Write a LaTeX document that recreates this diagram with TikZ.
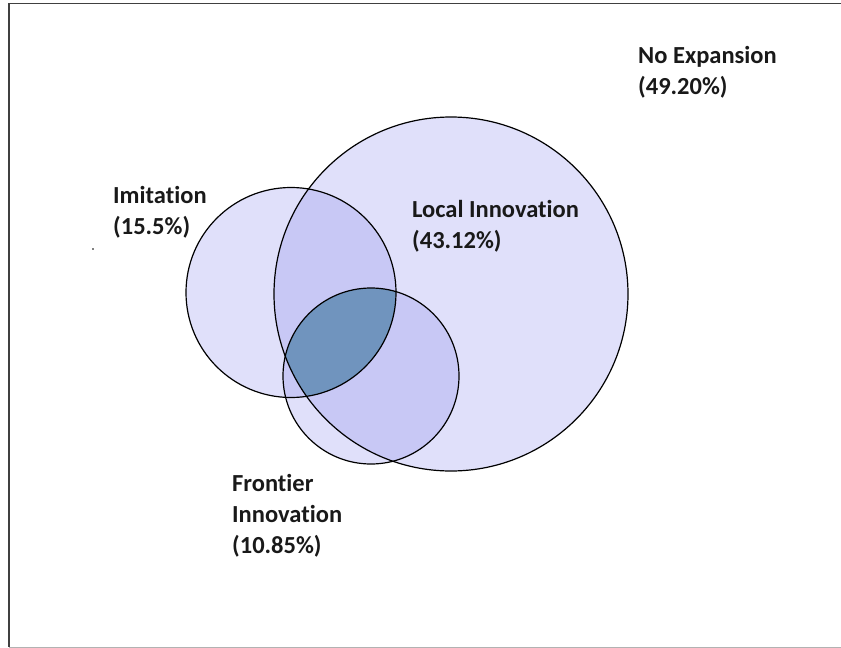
\documentclass[tikz,border=0pt]{standalone}
\usepackage{fontspec}
\setmainfont{Carlito}[Ligatures=NoCommon]
\definecolor{venlight}{RGB}{224,224,250}
\definecolor{venmid}{RGB}{200,200,245}
\definecolor{vendark}{RGB}{112,148,190}
\def\imitcirc{(291,292.5) circle [radius=105pt]}
\def\localcirc{(451,294) circle [radius=177pt]}
\def\frontcirc{(371,376) circle [radius=88pt]}
\begin{document}
\begin{tikzpicture}[x=1pt,y=-1pt,
  lbl/.style={anchor=north west,align=left,inner sep=0pt,text=black!90,
    font=\fontsize{24.5}{31}\selectfont\bfseries}]
  \useasboundingbox (0,0) rectangle (841,648);

  % Frame around the figure
  \draw[line width=1.5pt,black!75] (845,3.5) -- (9,3.5) -- (9,647);
  \draw[black!30] (9,647) -- (845,647);

  % Single regions
  \fill[venlight] \localcirc;
  \fill[venlight] \imitcirc;
  \fill[venlight] \frontcirc;

  % Pairwise overlaps
  \begin{scope}
    \clip \imitcirc;
    \fill[venmid] \localcirc;
    \fill[venmid] \frontcirc;
  \end{scope}
  \begin{scope}
    \clip \frontcirc;
    \fill[venmid] \localcirc;
  \end{scope}

  % Overlap of all three
  \begin{scope}
    \clip \imitcirc;
    \clip \frontcirc;
    \fill[vendark] \localcirc;
  \end{scope}

  % Outlines
  \draw[line width=1.2pt] \localcirc;
  \draw[line width=1.2pt] \imitcirc;
  \draw[line width=1.2pt] \frontcirc;

  % Labels
  \node[lbl] (noexp) at (638,46) {No Expansion\\(49.20\%)};
  \node[lbl] (local) at (412,200) {Local Innovation\\(43.12\%)};
  \node[lbl] (imit) at (113,186) {Imitation\\(15.5\%)};
  \node[lbl] (front) at (232,474) {Frontier\\Innovation\\(10.85\%)};

  \fill (93,249) circle [radius=0.8pt];
\end{tikzpicture}
\end{document}
